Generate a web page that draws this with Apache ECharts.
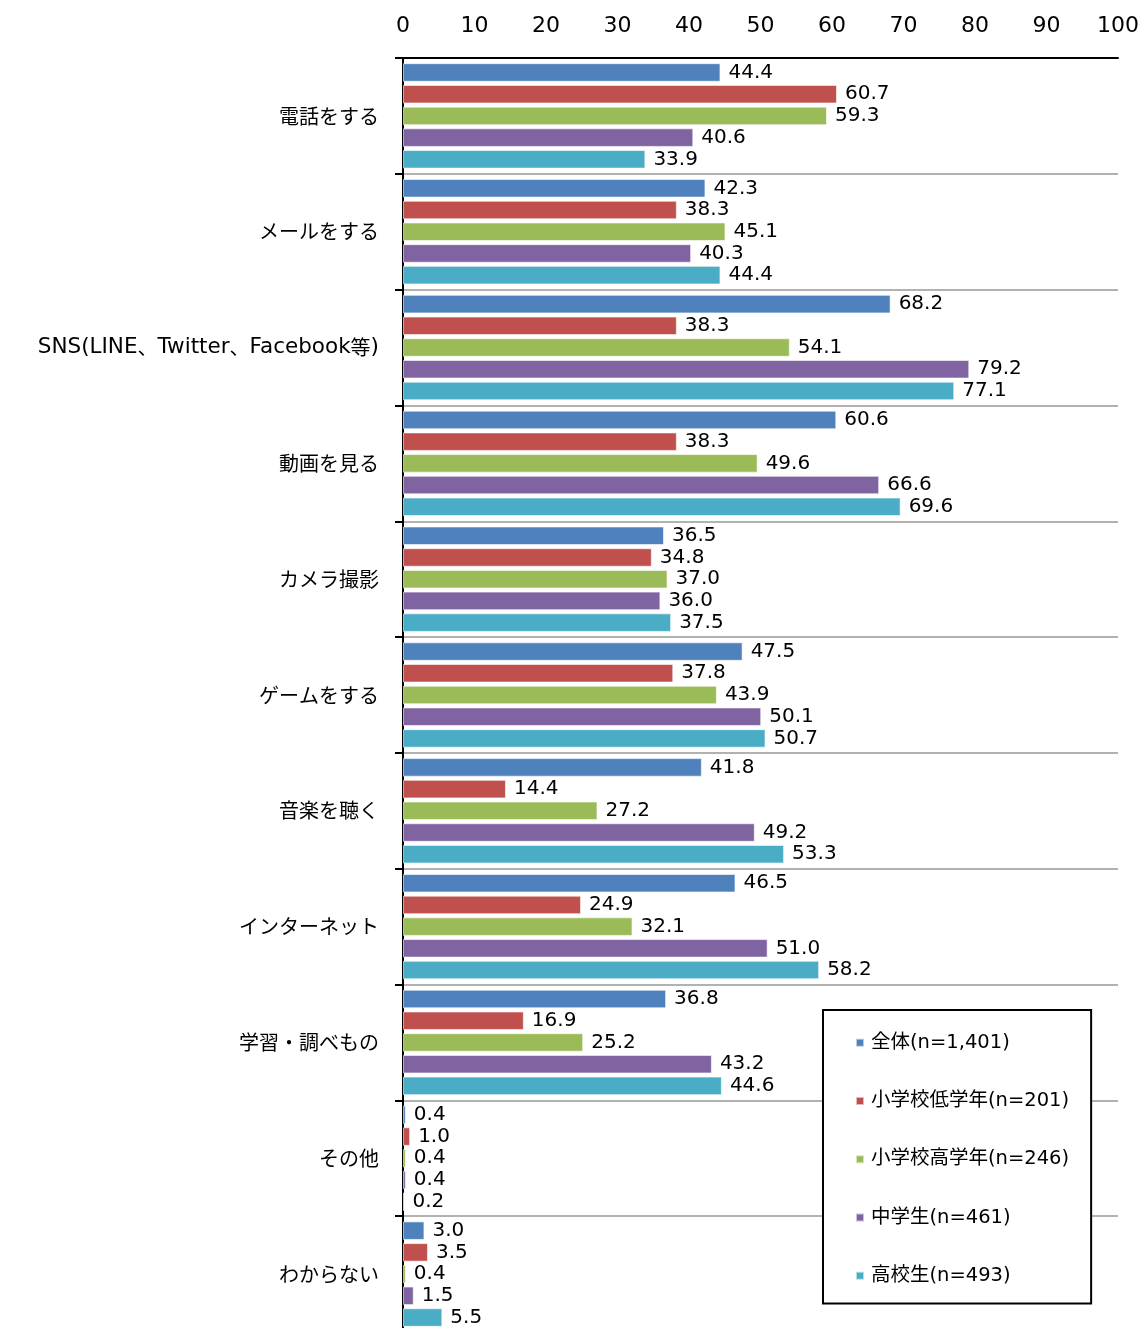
<!DOCTYPE html>
<html>
<head>
<meta charset="utf-8">
<script src="https://cdn.jsdelivr.net/npm/echarts@6/dist/echarts.min.js"></script>
<style>html,body{margin:0;padding:0;background:#fff;overflow:hidden}#c{width:1145px;height:1332px}</style>
</head>
<body>
<div id="c"></div>
<script>
const categories = ['電話をする','メールをする','SNS(LINE、Twitter、Facebook等)','動画を見る','カメラ撮影','ゲームをする','音楽を聴く','インターネット','学習・調べもの','その他','わからない'];
const seriesNames = ['全体(n=1,401)','小学校低学年(n=201)','小学校高学年(n=246)','中学生(n=461)','高校生(n=493)'];
const colors = ['#4F81BD','#C0504D','#9BBB59','#8064A2','#4BACC6'];
const all     = [44.4,42.3,68.2,60.6,36.5,47.5,41.8,46.5,36.8,0.4,3.0];
const elemLow = [60.7,38.3,38.3,38.3,34.8,37.8,14.4,24.9,16.9,1.0,3.5];
const elemHigh= [59.3,45.1,54.1,49.6,37.0,43.9,27.2,32.1,25.2,0.4,0.4];
const junior  = [40.6,40.3,79.2,66.6,36.0,50.1,49.2,51.0,43.2,0.4,1.5];
const senior  = [33.9,44.4,77.1,69.6,37.5,50.7,53.3,58.2,44.6,0.2,5.5];
const xTicks = [0,10,20,30,40,50,60,70,80,90,100];
const values = [all, elemLow, elemHigh, junior, senior];

// wrap Latin runs in a slightly larger style (Meiryo-like proportions)
function richLabel(s) {
  return s.replace(/[A-Za-z()]+/g, m => '{lat|' + m + '}');
}

const chart = echarts.init(document.getElementById('c'));
chart.setOption({
  animation: false,
  backgroundColor: '#fff',
  color: colors,
  grid: {left: 403, right: 27, top: 58, bottom: 0, containLabel: false},
  legend: {
    orient: 'vertical',
    left: 823, top: 1010,
    padding: [23, 22, 18, 32],
    itemGap: 38.75,
    itemWidth: 8, itemHeight: 8,
    icon: 'rect',
    backgroundColor: '#fff',
    borderColor: '#000', borderWidth: 2,
    textStyle: {fontSize: 19.5, color: '#000', fontFamily: 'DejaVu Sans, Noto Sans CJK JP', padding: [0,0,0,2]},
    data: seriesNames
  },
  xAxis: {
    type: 'value', position: 'top', min: xTicks[0], max: xTicks[xTicks.length-1], interval: 10,
    axisLine: {show: true, lineStyle: {color: '#000', width: 2}},
    axisTick: {show: false},
    splitLine: {show: false},
    axisLabel: {fontSize: 22, color: '#000', fontFamily: 'DejaVu Sans', margin: 21}
  },
  yAxis: {
    type: 'category', data: categories, inverse: true,
    axisLine: {show: true, lineStyle: {color: '#000', width: 2}},
    axisTick: {show: true, length: 8, lineStyle: {color: '#000', width: 2}},
    splitLine: {show: true, lineStyle: {color: '#999', width: 1.5}},
    axisLabel: {fontSize: 20, color: '#000', fontFamily: 'Noto Sans CJK JP', margin: 24,
      formatter: richLabel,
      rich: {lat: {fontSize: 21.5, fontFamily: 'DejaVu Sans', color: '#000'}}}
  },
  series: seriesNames.map((n, i) => ({
    name: n, type: 'bar', data: values[i],
    barGap: '17%', barCategoryGap: '9%',
    itemStyle: {color: colors[i], borderColor: 'rgba(255,255,255,0.6)', borderWidth: 1},
    label: {show: true, position: 'right', distance: 8, fontSize: 20, color: '#000', fontFamily: 'DejaVu Sans',
      formatter: p => p.value.toFixed(1)}
  }))
});
</script>
</body>
</html>
